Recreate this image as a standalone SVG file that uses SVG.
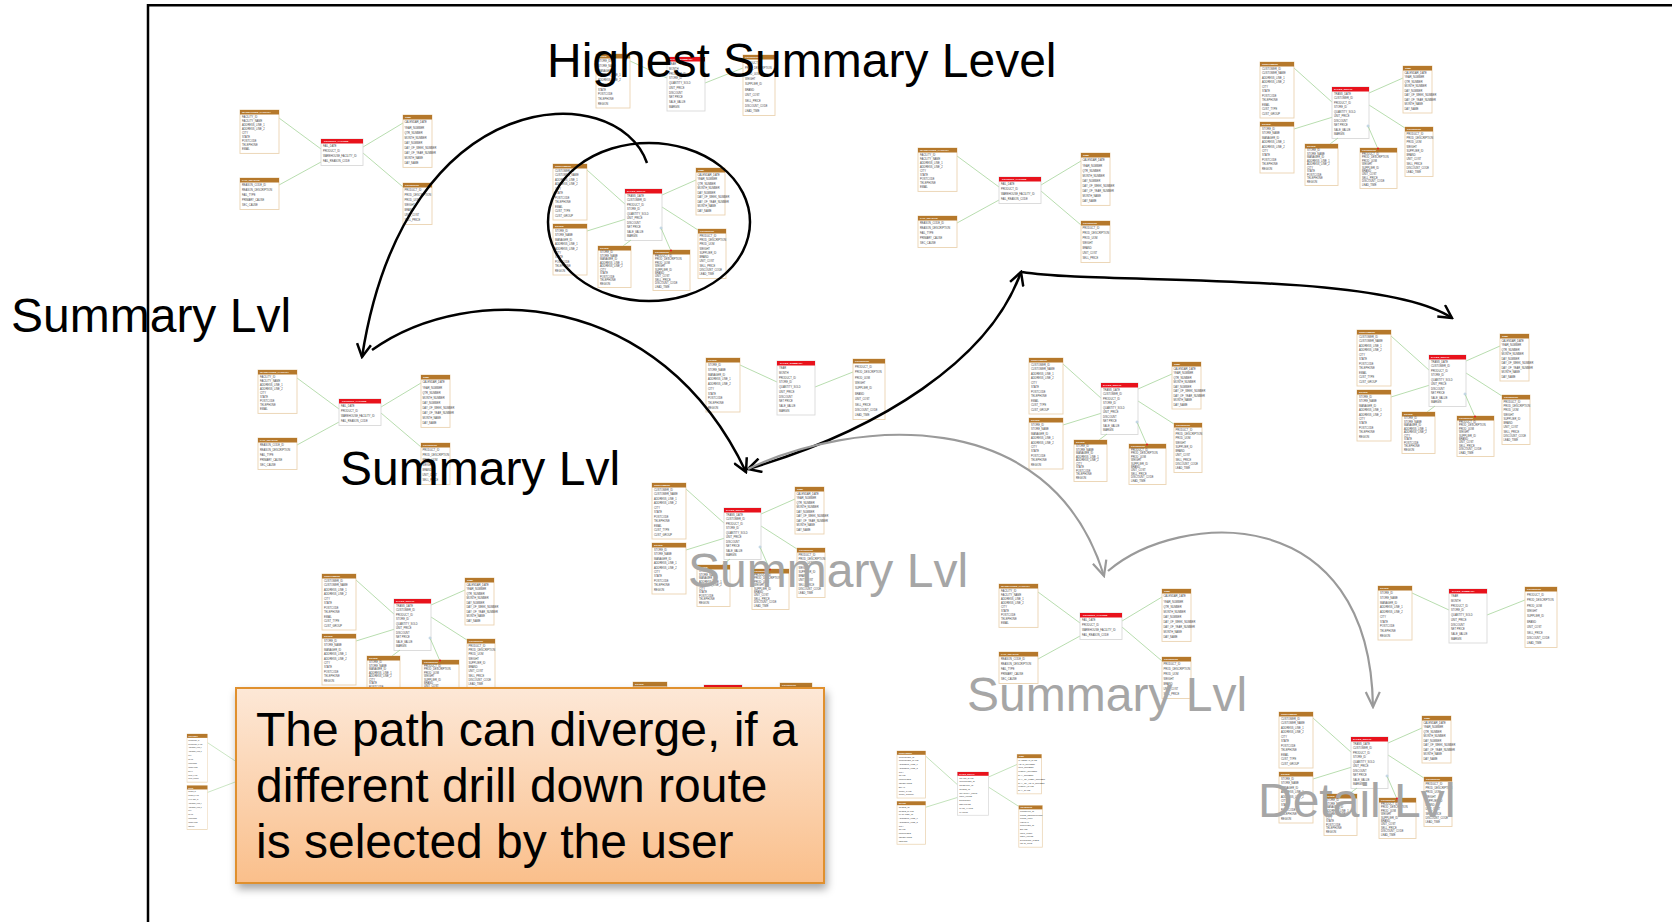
<svg xmlns="http://www.w3.org/2000/svg" xmlns:xlink="http://www.w3.org/1999/xlink" width="1672" height="922" viewBox="0 0 1672 922">
<style>
.bd{fill:#fff;stroke:#ead3b1;stroke-width:.9}
.bdr{fill:#fff;stroke:#d9d9d9;stroke-width:.9}
.hb{fill:#b5782b}
.hr{fill:#e8121c}
.ht{font-family:"Liberation Sans",Arial,sans-serif;font-size:2.5px;font-weight:bold;fill:#fff}
.rt{font-family:"Liberation Sans",Arial,sans-serif;font-size:2.6px;fill:#3f3f3f}
.ln{stroke:#a6d49a;stroke-width:.8;fill:none}
.tt{font-family:"Liberation Sans",Arial,sans-serif;font-size:48px;fill:#000}
.tg{font-family:"Liberation Sans",Arial,sans-serif;font-size:48px;fill:#a6a6a6}
.cb{fill:none;stroke:#000;stroke-width:2.5}
.cg{fill:none;stroke:#9a9a9a;stroke-width:2.2}
</style>
<defs>
<marker id="ab" viewBox="0 0 16 16" refX="14" refY="8" markerWidth="16" markerHeight="16" markerUnits="userSpaceOnUse" orient="auto-start-reverse"><path d="M1,1 L14,8 L1,15" fill="none" stroke="#000" stroke-width="2.5"/></marker>
<marker id="ag" viewBox="0 0 18 18" refX="16" refY="9" markerWidth="18" markerHeight="18" markerUnits="userSpaceOnUse" orient="auto"><path d="M1,2 L16,9 L1,16" fill="none" stroke="#9a9a9a" stroke-width="2.2"/></marker>
<linearGradient id="gb" x1="0" y1="0" x2="0" y2="1"><stop offset="0" stop-color="#fde8d7"/><stop offset="1" stop-color="#fabf8b"/></linearGradient>
<filter id="sh" x="-5%" y="-5%" width="115%" height="125%"><feDropShadow dx="2" dy="5" stdDeviation="4" flood-color="#000" flood-opacity="0.35"/></filter>

<g id="t-cust"><rect class="bd" width="34" height="56"/><rect class="hb" width="34" height="4.5"/><text class="ht" x="2" y="3.4">CUSTOMERS</text><text class="rt" y="3.3"><tspan x="2" dy="4.5">CUSTOMER_ID</tspan><tspan x="2" dy="4.5">CUSTOMER_NAME</tspan><tspan x="2" dy="4.5">ADDRESS_LINE_1</tspan><tspan x="2" dy="4.5">ADDRESS_LINE_2</tspan><tspan x="2" dy="4.5">CITY</tspan><tspan x="2" dy="4.5">STATE</tspan><tspan x="2" dy="4.5">POSTCODE</tspan><tspan x="2" dy="4.5">TELEPHONE</tspan><tspan x="2" dy="4.5">EMAIL</tspan><tspan x="2" dy="4.5">CUST_TYPE</tspan><tspan x="2" dy="4.5">CUST_GROUP</tspan></text></g>

<g id="t-store"><rect class="bd" width="34" height="51"/><rect class="hb" width="34" height="4.5"/><text class="ht" x="2" y="3.4">STORE</text><text class="rt" y="3.3"><tspan x="2" dy="4.45">STORE_ID</tspan><tspan x="2" dy="4.45">STORE_NAME</tspan><tspan x="2" dy="4.45">MANAGER_ID</tspan><tspan x="2" dy="4.45">ADDRESS_LINE_1</tspan><tspan x="2" dy="4.45">ADDRESS_LINE_2</tspan><tspan x="2" dy="4.45">CITY</tspan><tspan x="2" dy="4.45">STATE</tspan><tspan x="2" dy="4.45">POSTCODE</tspan><tspan x="2" dy="4.45">TELEPHONE</tspan><tspan x="2" dy="4.45">REGION</tspan></text></g>

<g id="t-sd"><rect class="bdr" width="37" height="51.5"/><rect class="hr" width="37" height="4.5"/><text class="ht" x="2" y="3.4">SALES_DETAIL</text><text class="rt" y="3.3"><tspan x="2" dy="4.5">TRANS_DATE</tspan><tspan x="2" dy="4.5">CUSTOMER_ID</tspan><tspan x="2" dy="4.5">PRODUCT_ID</tspan><tspan x="2" dy="4.5">STORE_ID</tspan><tspan x="2" dy="4.5">QUANTITY_SOLD</tspan><tspan x="2" dy="4.5">UNIT_PRICE</tspan><tspan x="2" dy="4.5">DISCOUNT</tspan><tspan x="2" dy="4.5">NET PRICE</tspan><tspan x="2" dy="4.5">SALE_VALUE</tspan><tspan x="2" dy="4.5">MARGIN</tspan></text></g>

<g id="t-time"><rect class="bd" width="29" height="47"/><rect class="hb" width="29" height="4.5"/><text class="ht" x="2" y="3.4">TIME</text><text class="rt" y="3.3"><tspan x="1.5" dy="4.5">CALENDAR_DATE</tspan><tspan x="1.5" dy="4.5">YEAR_NUMBER</tspan><tspan x="1.5" dy="4.5">QTR_NUMBER</tspan><tspan x="1.5" dy="4.5">MONTH_NUMBER</tspan><tspan x="1.5" dy="4.5">DAY_NUMBER</tspan><tspan x="1.5" dy="4.5">DAY_OF_WEEK_NUMBER</tspan><tspan x="1.5" dy="4.5">DAY_OF_YEAR_NUMBER</tspan><tspan x="1.5" dy="4.5">MONTH_NAME</tspan><tspan x="1.5" dy="4.5">DAY_NAME</tspan></text></g>

<g id="t-prod"><rect class="bd" width="28" height="49.5"/><rect class="hb" width="28" height="4.5"/><text class="ht" x="2" y="3.4">PRODUCTS</text><text class="rt" y="3.3"><tspan x="1.5" dy="4.3">PRODUCT_ID</tspan><tspan x="1.5" dy="4.3">PROD_DESCRIPTION</tspan><tspan x="1.5" dy="4.3">PROD_UOM</tspan><tspan x="1.5" dy="4.3">WEIGHT</tspan><tspan x="1.5" dy="4.3">SUPPLIER_ID</tspan><tspan x="1.5" dy="4.3">BRAND</tspan><tspan x="1.5" dy="4.3">UNIT_COST</tspan><tspan x="1.5" dy="4.3">SELL_PRICE</tspan><tspan x="1.5" dy="4.3">DISCOUNT_CODE</tspan><tspan x="1.5" dy="4.3">LEAD_TIME</tspan></text></g>

<g id="t-storeS"><rect class="bd" width="33" height="41.5"/><rect class="hb" width="33" height="4.5"/><text class="ht" x="2" y="3.4">STORE</text><text class="rt" y="3.6"><tspan x="2" dy="3.5">STORE_ID</tspan><tspan x="2" dy="3.5">STORE_NAME</tspan><tspan x="2" dy="3.5">MANAGER_ID</tspan><tspan x="2" dy="3.5">ADDRESS_LINE_1</tspan><tspan x="2" dy="3.5">ADDRESS_LINE_2</tspan><tspan x="2" dy="3.5">CITY</tspan><tspan x="2" dy="3.5">STATE</tspan><tspan x="2" dy="3.5">POSTCODE</tspan><tspan x="2" dy="3.5">TELEPHONE</tspan><tspan x="2" dy="3.5">REGION</tspan></text></g>

<g id="t-prodS"><rect class="bd" width="37" height="40.5"/><rect class="hb" width="37" height="4.5"/><text class="ht" x="2" y="3.4">PRODUCTS</text><text class="rt" y="3.6"><tspan x="2" dy="3.4">PRODUCT_ID</tspan><tspan x="2" dy="3.4">PROD_DESCRIPTION</tspan><tspan x="2" dy="3.4">PROD_UOM</tspan><tspan x="2" dy="3.4">WEIGHT</tspan><tspan x="2" dy="3.4">SUPPLIER_ID</tspan><tspan x="2" dy="3.4">BRAND</tspan><tspan x="2" dy="3.4">UNIT_COST</tspan><tspan x="2" dy="3.4">SELL_PRICE</tspan><tspan x="2" dy="3.4">DISCOUNT_CODE</tspan><tspan x="2" dy="3.4">LEAD_TIME</tspan></text></g>

<g id="t-wf"><rect class="bd" width="39" height="43.4"/><rect class="hb" width="39" height="4.5"/><text class="ht" x="2" y="3.4">WAREHOUSE_FACILITY</text><text class="rt" y="3.4"><tspan x="2" dy="4.1">FACILITY_ID</tspan><tspan x="2" dy="4.1">FACILITY_NAME</tspan><tspan x="2" dy="4.1">ADDRESS_LINE_1</tspan><tspan x="2" dy="4.1">ADDRESS_LINE_2</tspan><tspan x="2" dy="4.1">CITY</tspan><tspan x="2" dy="4.1">STATE</tspan><tspan x="2" dy="4.1">POSTCODE</tspan><tspan x="2" dy="4.1">TELEPHONE</tspan><tspan x="2" dy="4.1">EMAIL</tspan></text></g>

<g id="t-fr"><rect class="bd" width="39" height="31.5"/><rect class="hb" width="39" height="4.5"/><text class="ht" x="2" y="3.4">FAIL_REASON</text><text class="rt" y="3.3"><tspan x="2" dy="5">REASON_CODE_ID</tspan><tspan x="2" dy="5">REASON_DESCRIPTION</tspan><tspan x="2" dy="5">FAIL_TYPE</tspan><tspan x="2" dy="5">PRIMARY_CAUSE</tspan><tspan x="2" dy="5">SEC_CAUSE</tspan></text></g>

<g id="t-pf"><rect class="bdr" width="42" height="26.5"/><rect class="hr" width="42" height="4.5"/><text class="ht" x="3" y="3.4">PRODUCT_FAILURE</text><text class="rt" y="3.3"><tspan x="2" dy="5">FAIL_DATE</tspan><tspan x="2" dy="5">PRODUCT_ID</tspan><tspan x="2" dy="5">WAREHOUSE_FACILITY_ID</tspan><tspan x="2" dy="5">FAIL_REASON_CODE</tspan></text></g>

<g id="t-timeA"><rect class="bd" width="29" height="52.4"/><rect class="hb" width="29" height="4.5"/><text class="ht" x="2" y="3.4">TIME</text><text class="rt" y="3.3"><tspan x="1.5" dy="5.1">CALENDAR_DATE</tspan><tspan x="1.5" dy="5.1">YEAR_NUMBER</tspan><tspan x="1.5" dy="5.1">QTR_NUMBER</tspan><tspan x="1.5" dy="5.1">MONTH_NUMBER</tspan><tspan x="1.5" dy="5.1">DAY_NUMBER</tspan><tspan x="1.5" dy="5.1">DAY_OF_WEEK_NUMBER</tspan><tspan x="1.5" dy="5.1">DAY_OF_YEAR_NUMBER</tspan><tspan x="1.5" dy="5.1">MONTH_NAME</tspan><tspan x="1.5" dy="5.1">DAY_NAME</tspan></text></g>

<g id="t-prodA"><rect class="bd" width="29" height="41.5"/><rect class="hb" width="29" height="4.5"/><text class="ht" x="2" y="3.4">PRODUCTS</text><text class="rt" y="3.3"><tspan x="1.5" dy="5">PRODUCT_ID</tspan><tspan x="1.5" dy="5">PROD_DESCRIPTION</tspan><tspan x="1.5" dy="5">PROD_UOM</tspan><tspan x="1.5" dy="5">WEIGHT</tspan><tspan x="1.5" dy="5">BRAND</tspan><tspan x="1.5" dy="5">UNIT_COST</tspan><tspan x="1.5" dy="5">SELL_PRICE</tspan></text></g>

<g id="t-storeC"><rect class="bd" width="34" height="54"/><rect class="hb" width="34" height="4.5"/><text class="ht" x="2" y="3.4">STORE</text><text class="rt" y="3.3"><tspan x="2" dy="4.75">STORE_ID</tspan><tspan x="2" dy="4.75">STORE_NAME</tspan><tspan x="2" dy="4.75">MANAGER_ID</tspan><tspan x="2" dy="4.75">ADDRESS_LINE_1</tspan><tspan x="2" dy="4.75">ADDRESS_LINE_2</tspan><tspan x="2" dy="4.75">CITY</tspan><tspan x="2" dy="4.75">STATE</tspan><tspan x="2" dy="4.75">POSTCODE</tspan><tspan x="2" dy="4.75">TELEPHONE</tspan><tspan x="2" dy="4.75">REGION</tspan></text></g>

<g id="t-ss"><rect class="bdr" width="38" height="54"/><rect class="hr" width="38" height="4.5"/><text class="ht" x="3" y="3.4">SALES_SUMMARY</text><text class="rt" y="3.3"><tspan x="2" dy="4.75">YEAR</tspan><tspan x="2" dy="4.75">MONTH</tspan><tspan x="2" dy="4.75">PRODUCT_ID</tspan><tspan x="2" dy="4.75">STORE_ID</tspan><tspan x="2" dy="4.75">QUANTITY_SOLD</tspan><tspan x="2" dy="4.75">UNIT_PRICE</tspan><tspan x="2" dy="4.75">DISCOUNT</tspan><tspan x="2" dy="4.75">NET PRICE</tspan><tspan x="2" dy="4.75">SALE_VALUE</tspan><tspan x="2" dy="4.75">MARGIN</tspan></text></g>

<g id="t-prodC"><rect class="bd" width="32" height="60.5"/><rect class="hb" width="32" height="4.5"/><text class="ht" x="2" y="3.4">PRODUCTS</text><text class="rt" y="3.3"><tspan x="2" dy="5.4">PRODUCT_ID</tspan><tspan x="2" dy="5.4">PROD_DESCRIPTION</tspan><tspan x="2" dy="5.4">PROD_UOM</tspan><tspan x="2" dy="5.4">WEIGHT</tspan><tspan x="2" dy="5.4">SUPPLIER_ID</tspan><tspan x="2" dy="5.4">BRAND</tspan><tspan x="2" dy="5.4">UNIT_COST</tspan><tspan x="2" dy="5.4">SELL_PRICE</tspan><tspan x="2" dy="5.4">DISCOUNT_CODE</tspan><tspan x="2" dy="5.4">LEAD_TIME</tspan></text></g>

<g id="schA">
<path class="ln" d="M39,8 L81,39 M39,75 L81,52 M163,13 L123,37 M163,77 L123,43"/>
<use href="#t-wf"/><use href="#t-fr" y="68"/><use href="#t-pf" x="81" y="29"/><use href="#t-timeA" x="163" y="5"/><use href="#t-prodA" x="163" y="73"/>
</g>

<g id="schB4">
<path class="ln" d="M34,6 L73,41 M34,67 L73,55 M143,16 L109,31 M145,66 L109,43"/>
<use href="#t-cust"/><use href="#t-store" y="60"/><use href="#t-sd" x="72" y="25"/><use href="#t-time" x="143" y="4"/><use href="#t-prod" x="145" y="65"/>
</g>

<g id="schB">
<use href="#schB4"/>
<path class="ln" d="M70,82 L78,76 M118,87 L108,64"/>
<use href="#t-storeS" x="45" y="82"/><use href="#t-prodS" x="100" y="86"/>
<circle cx="108" cy="64" r="1" fill="#fff" stroke="#8fb3cf" stroke-width=".6"/>
<circle cx="118" cy="86.5" r="1" fill="#e8121c"/>
</g>

<g id="schC">
<path class="ln" d="M34,7 L71,24 M147,14 L109,29"/>
<use href="#t-storeC"/><use href="#t-ss" x="71" y="3"/><use href="#t-prodC" x="147" y="1"/>
</g>
</defs>

<rect width="1672" height="922" fill="#fff"/>
<path d="M148,924 V5.3 H1674" fill="none" stroke="#000" stroke-width="2.5"/>

<g id="schema-product-failure-1" transform="translate(240,110)"><use href="#schA"/></g>
<g id="schema-sales-detail-circled" transform="translate(553,164)"><use href="#schB"/></g>
<g id="schema-sales-summary-top" transform="translate(596,54)"><use href="#schC"/></g>
<g id="schema-product-failure-2" transform="translate(918,148)"><use href="#schA"/></g>
<g id="schema-sales-detail-topright" transform="translate(1260,62)"><use href="#schB"/></g>
<g id="schema-product-failure-3" transform="translate(258,370)"><use href="#schA"/></g>
<g id="schema-sales-summary-mid" transform="translate(706,358)"><use href="#schC"/></g>
<g id="schema-sales-detail-mid" transform="translate(1029,358)"><use href="#schB"/></g>
<g id="schema-sales-detail-right" transform="translate(1357,330)"><use href="#schB"/></g>
<g id="schema-sales-detail-center" transform="translate(652,483)"><use href="#schB"/></g>
<g id="schema-sales-detail-left" transform="translate(322,574)"><use href="#schB"/></g>
<g id="schema-small-left" transform="translate(187,734) scale(0.6,0.86)">
<path class="ln" d="M34,10 L110,45 M34,68 L110,48"/>
<use href="#t-cust"/><use href="#t-store" y="60"/>
</g>
<g id="schema-product-failure-4" transform="translate(999,584)"><use href="#schA"/></g>
<g id="schema-sales-summary-right" transform="translate(1378,586)"><use href="#schC"/></g>
<g id="schema-sales-detail-bottomright" transform="translate(1279,712)"><use href="#schB"/></g>
<g id="schema-sales-detail-bottom" transform="translate(897,751) scale(0.84)"><use href="#schB4"/></g>
<g id="schema-sales-summary-under-box" transform="translate(633,682)"><use href="#schC"/></g>

<g id="labels">
<text class="tt" x="547" y="77">Highest Summary Level</text>
<text class="tt" x="11" y="332">Summary Lvl</text>
<text class="tt" x="340" y="485">Summary Lvl</text>
<text class="tg" x="688" y="587">Summary Lvl</text>
<text class="tg" x="967" y="711">Summary Lvl</text>
<text class="tg" x="1258" y="817">Detail Lvl</text>
</g>

<g id="connectors">
<ellipse class="cb" cx="649" cy="222" rx="101" ry="79"/>
<path class="cb" d="M647,163 C618,78 405,80 362,357" marker-end="url(#ab)"/>
<path class="cb" d="M372,350 C470,280 660,290 746,472" marker-end="url(#ab)"/>
<path class="cb" d="M748,469 C880,430 990,360 1021,272" marker-start="url(#ab)" marker-end="url(#ab)"/>
<path class="cb" d="M1022,272 C1100,285 1380,270 1452,318" marker-end="url(#ab)"/>
<path class="cg" d="M748,469 C850,420 1050,400 1104,576" marker-end="url(#ag)"/>
<path class="cg" d="M1108,571 C1180,510 1370,500 1373,707" marker-end="url(#ag)"/>
</g>

<g id="callout">
<rect x="236" y="688" width="588" height="195" fill="url(#gb)" stroke="#e0902f" stroke-width="2" filter="url(#sh)"/>
<text class="tt" x="256" y="746">The path can diverge, if a</text>
<text class="tt" x="256" y="802">different drill down route</text>
<text class="tt" x="256" y="858">is selected by the user</text>
</g>
</svg>
